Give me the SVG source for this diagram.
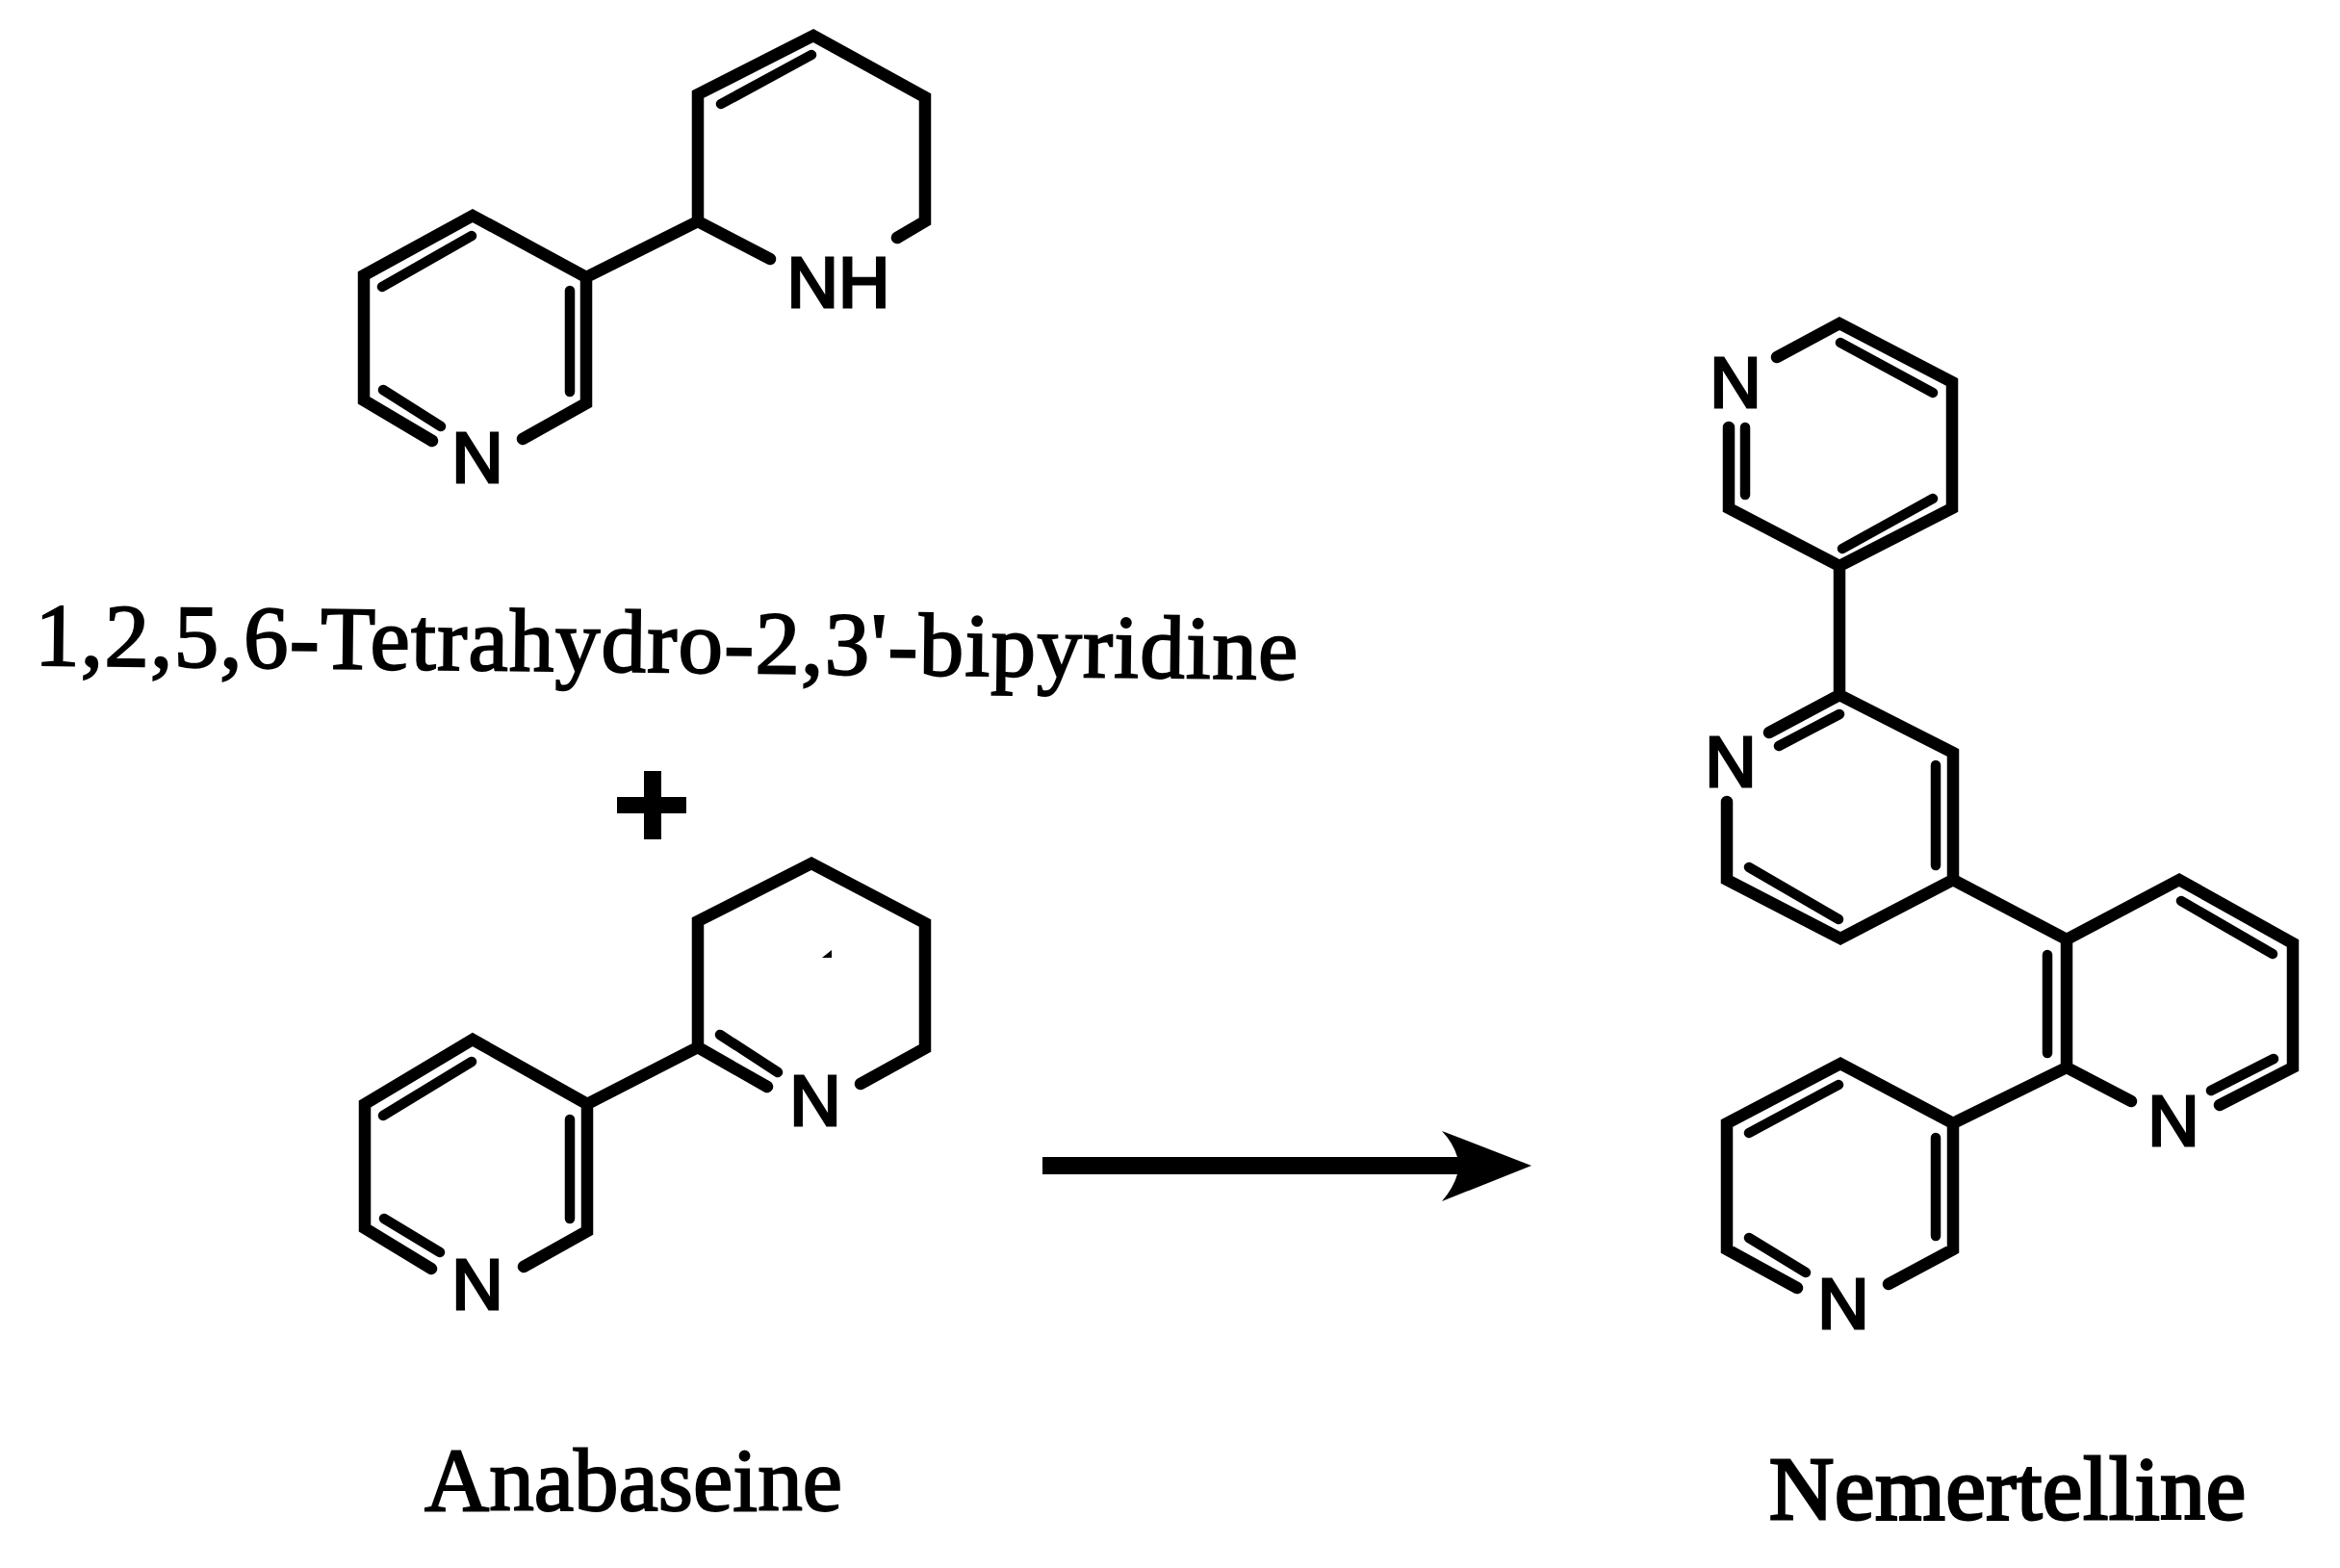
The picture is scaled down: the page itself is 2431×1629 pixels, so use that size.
<svg xmlns="http://www.w3.org/2000/svg" width="2431" height="1629" viewBox="0 0 2431 1629">
<style>
.b{fill:none;stroke:#000;stroke-width:12.5;stroke-linecap:round;stroke-linejoin:miter}
.i{fill:none;stroke:#000;stroke-width:10.5;stroke-linecap:round}
.a{font-family:"Liberation Sans",Arial,sans-serif;font-size:74px;fill:#000;stroke:#000;stroke-width:3;text-anchor:middle}
.n{font-family:"Liberation Serif","Times New Roman",serif;font-size:93px;fill:#000;stroke:#000;stroke-width:2}
</style>
<rect width="2431" height="1629" fill="#fff"/>
<g id="tetrahydrobipyridine">
<path class="b" d="M449 458L378 416V286L491 224L609 288V419L543 456M609 288L725 230V98L845 37L961 101V230L932 247M725 230L800 269"/>
<path class="i" d="M592 302V407M397 298L490 245M398 405L458 443M749 108L843 57"/>
<text class="a" x="496" y="501">N</text>
<text class="a" x="871" y="319">NH</text>
<text class="n" x="36" y="691" textLength="1312" transform="rotate(0.64 36 691)">1,2,5,6-Tetrahydro-2,3'-bipyridine</text>
</g>
<g id="plus"><path d="M669 801H687V828H713V845H687V872H669V845H641V828H669Z" fill="#000"/></g>
<g id="anabaseine">
<path class="b" d="M448 1318L379 1276V1147L491 1080L610 1147V1279L544 1316M610 1147L725 1088V957L843 897L961 959V1089L894 1126M725 1088L797 1129"/>
<path class="i" d="M592 1163V1266M398 1159L490 1103M399 1266L457 1301M748 1075L808 1114"/>
<path d="M854 995L864 987V995Z" fill="#000"/>
<text class="a" x="496" y="1360">N</text>
<text class="a" x="847" y="1169">N</text>
<text class="n" x="441" y="1569" textLength="434">Anabaseine</text>
</g>
<g id="nemertelline">
<path class="b" d="M1846 371L1911 336L2028 397V528L1911 588L1796 528V444M1911 588V722L1838 761M1911 722L2029 782V914L1912 975L1794 914V833M2029 914L2147 976L2264 914L2382 980V1109L2306 1148M2214 1144L2147 1109V976M2147 1109L2029 1167L1912 1105L1794 1167V1298L1867 1338M1962 1334L2029 1298V1167"/>
<path class="i" d="M1813 444V514M1912 356L2008 408M1914 570L2008 518M1848 775L1911 742M2011 795V899M1817 901L1910 955M2127 992V1094M2266 936L2361 991M2297 1133L2362 1100M2011 1182V1284M1817 1177L1910 1127M1817 1286L1876 1322"/>
<text class="a" x="1803" y="423">N</text>
<text class="a" x="1798" y="817">N</text>
<text class="a" x="2258" y="1190">N</text>
<text class="a" x="1915" y="1380">N</text>
<text class="n" x="1838" y="1578" textLength="495" style="stroke-width:3">Nemertelline</text>
</g>
<g id="connectors">
<path d="M1083 1202H1514Q1510 1188 1498 1175L1591 1211L1498 1248Q1510 1234 1514 1220H1083Z" fill="#000"/>
</g>
</svg>
